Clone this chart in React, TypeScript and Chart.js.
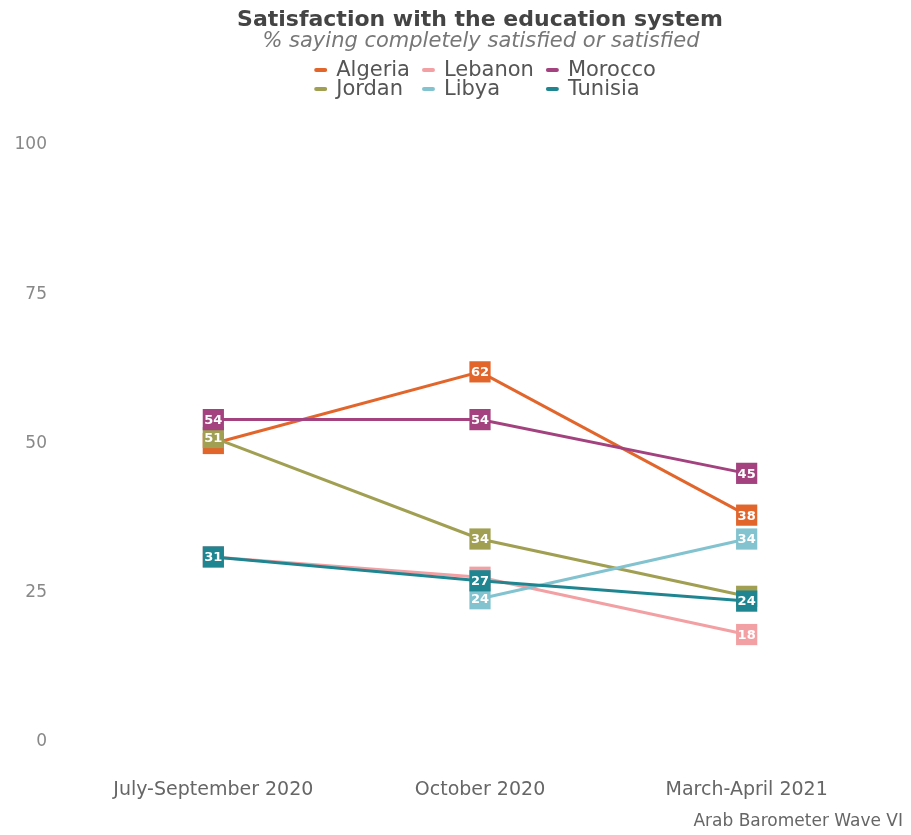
import { useEffect, useRef } from "react";
import { Chart, registerables } from "chart.js";

Chart.register(...registerables);

const periods = ["July-September 2020", "October 2020", "March-April 2021"];
const countries = ["Algeria", "Jordan", "Lebanon", "Libya", "Morocco", "Tunisia"];
const algeria = [50, 62, 38];
const jordan = [51, 34, 24.4];
const lebanon = [31, 27.6, 18];
const libya = [null, 24, 34];
const morocco = [54, 54, 45];
const tunisia = [31, 27, 23.6];
const seriesValues = [algeria, jordan, lebanon, libya, morocco, tunisia];
const colors = ["#e2662b", "#a19f52", "#f2a0a3", "#82c3cf", "#a3427f", "#1e8591"];
const yTicks = [0, 25, 50, 75, 100];
const legendColumns = [["Algeria", "Jordan"], ["Lebanon", "Libya"], ["Morocco", "Tunisia"]];

const titleText = "Satisfaction with the education system";
const subtitleText = "% saying completely satisfied or satisfied";
const sourceText = "Arab Barometer Wave VI";

const FONT = "'DejaVu Sans', sans-serif";

const pointLabelPlugin = {
  id: "pointLabels",
  afterDatasetDraw(chart: any, args: any) {
    const ctx = chart.ctx;
    const ds = chart.data.datasets[args.index];
    ctx.save();
    ctx.font = `bold 13px ${FONT}`;
    ctx.fillStyle = "#ffffff";
    ctx.textAlign = "center";
    ctx.textBaseline = "middle";
    args.meta.data.forEach((pt: any, i: number) => {
      const v = ds.data[i];
      if (v == null) return;
      ctx.fillText(String(Math.round(v)), pt.x, pt.y + 1);
    });
    ctx.restore();
  },
};

const headerPlugin = {
  id: "header",
  afterDraw(chart: any) {
    const ctx = chart.ctx;
    const w = chart.width;
    ctx.save();
    ctx.textAlign = "center";
    ctx.textBaseline = "middle";
    ctx.fillStyle = "#444444";
    ctx.font = `bold 22px ${FONT}`;
    ctx.fillText(titleText, 480, 20);
    ctx.fillStyle = "#777777";
    ctx.font = `oblique 21px ${FONT}`;
    ctx.fillText(subtitleText, 481, 42);

    // legend
    ctx.font = `21px ${FONT}`;
    const markerW = 13;
    const gap = 9;
    const colGap = 12;
    const colWidths = legendColumns.map(
      (col) => markerW + gap + Math.max(...col.map((t) => ctx.measureText(t).width))
    );
    const total = colWidths.reduce((a, b) => a + b, 0) + colGap * (colWidths.length - 1);
    let x = 485 - total / 2;
    const rowsY = [70, 89];
    legendColumns.forEach((col, ci) => {
      col.forEach((name, ri) => {
        const idx = countries.indexOf(name);
        const y = rowsY[ri];
        ctx.strokeStyle = colors[idx];
        ctx.lineWidth = 4;
        ctx.lineCap = "round";
        ctx.beginPath();
        ctx.moveTo(x + 2, y);
        ctx.lineTo(x + markerW - 2, y);
        ctx.stroke();
        ctx.fillStyle = "#555555";
        ctx.textAlign = "left";
        ctx.fillText(name, x + markerW + gap, y + 1);
      });
      x += colWidths[ci] + colGap;
    });

    // source
    ctx.textAlign = "right";
    ctx.fillStyle = "#666666";
    ctx.font = `17px ${FONT}`;
    ctx.fillText(sourceText, w - 8, 822);
    ctx.restore();
  },
};

export default function App() {
  const ref = useRef<HTMLCanvasElement | null>(null);
  useEffect(() => {
    if (!ref.current) return;
    const orders = [5, 3, 4, 1, 2, 0];
    const chart = new Chart(ref.current, {
      type: "line",
      data: {
        labels: periods,
        datasets: countries.map((c, i) => ({
          label: c,
          data: seriesValues[i],
          borderColor: colors[i],
          backgroundColor: colors[i],
          pointBackgroundColor: colors[i],
          pointBorderColor: colors[i],
          pointBorderWidth: 0,
          pointStyle: "rect",
          pointRadius: 15,
          pointHoverRadius: 15,
          borderWidth: 3,
          tension: 0,
          spanGaps: false,
          order: orders[i],
          clip: false as any,
        })),
      },
      options: {
        responsive: false,
        animation: false,
        events: [],
        layout: { padding: { top: 145, right: 31, left: 0, bottom: 0 } },
        plugins: {
          legend: { display: false },
          tooltip: { enabled: false },
          title: { display: false },
        },
        scales: {
          x: {
            type: "category",
            offset: true,
            grid: { display: false, drawTicks: false },
            border: { display: false },
            ticks: {
              padding: 37,
              color: "#666666",
              font: { family: FONT, size: 19 },
              maxRotation: 0,
            },
            afterFit: (s: any) => {
              s.height = 93;
            },
          },
          y: {
            type: "linear",
            min: 0,
            max: 100,
            grid: { display: false, drawTicks: false },
            border: { display: false },
            afterBuildTicks: (s: any) => {
              s.ticks = yTicks.map((v) => ({ value: v }));
            },
            ticks: {
              padding: 33,
              color: "#888888",
              font: { family: FONT, size: 17 },
            },
            afterFit: (s: any) => {
              s.width = 80;
            },
          },
        },
      },
      plugins: [pointLabelPlugin, headerPlugin],
    });
    return () => chart.destroy();
  }, []);
  return (
    <div style={{ position: "absolute", left: 0, top: 0, width: 911, height: 835, background: "#fff" }}>
      <canvas ref={ref} width={911} height={835} />
    </div>
  );
}
